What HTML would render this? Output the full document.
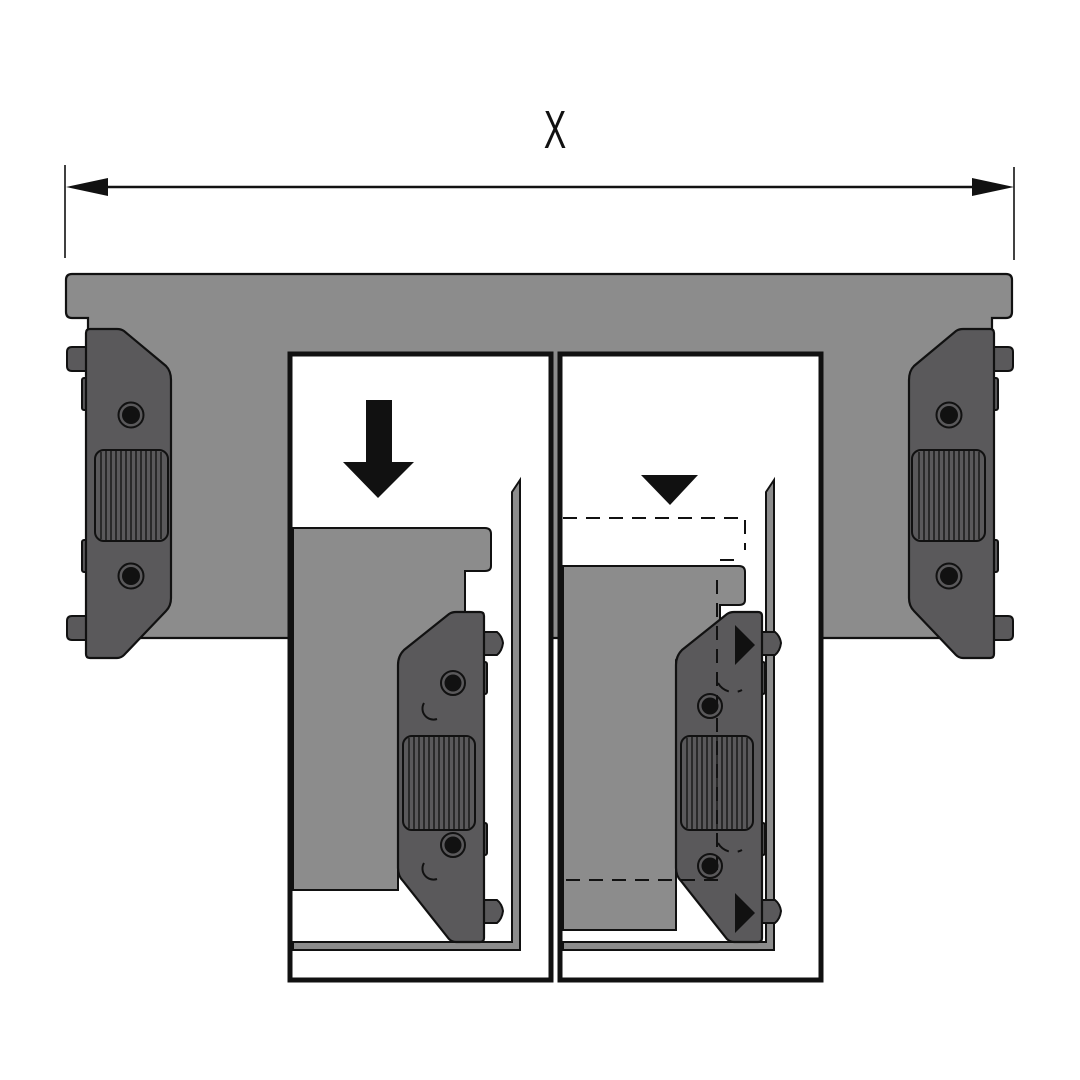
<!DOCTYPE html>
<html><head><meta charset="utf-8"><style>html,body{margin:0;padding:0;background:#fff}svg{display:block}</style></head>
<body>
<svg width="1080" height="1080" viewBox="0 0 1080 1080" xmlns="http://www.w3.org/2000/svg">
<defs>
<g id="clip">
  <!-- pins -->
  <path d="M86,347 L72,347 Q67,347 67,352 L67,366 Q67,371 72,371 L86,371 Z" fill="#5a595b" stroke="#111" stroke-width="2"/>
  <path d="M86,616 L72,616 Q67,616 67,621 L67,635 Q67,640 72,640 L86,640 Z" fill="#5a595b" stroke="#111" stroke-width="2"/>
  <rect x="82" y="378" width="6" height="32" rx="2" fill="#5a595b" stroke="#111" stroke-width="2"/>
  <rect x="82" y="540" width="6" height="32" rx="2" fill="#5a595b" stroke="#111" stroke-width="2"/>
  <!-- body -->
  <path d="M90,329 L117,329 Q121,329 124,331 L166,366 Q171,371 171,380 L171,598 Q171,606 166,611 L124,655 Q121,658 117,658 L90,658 Q86,658 86,654 L86,333 Q86,329 90,329 Z" fill="#5a595b" stroke="#111" stroke-width="2.2"/>
  <!-- screws -->
  <circle cx="131" cy="415" r="12.5" fill="#5a595b" stroke="#111" stroke-width="2"/>
  <circle cx="131" cy="415" r="9" fill="#111"/>
  <circle cx="131" cy="576" r="12.5" fill="#5a595b" stroke="#111" stroke-width="2"/>
  <circle cx="131" cy="576" r="9" fill="#111"/>
  <!-- pad -->
  <rect x="95" y="450" width="73" height="91" rx="9" fill="#5a595b" stroke="#111" stroke-width="2"/>
  <g stroke="#111" stroke-width="1.3">
    <line x1="101" y1="452" x2="101" y2="539"/><line x1="106" y1="451" x2="106" y2="540"/><line x1="111" y1="451" x2="111" y2="540"/><line x1="116" y1="451" x2="116" y2="540"/><line x1="121" y1="451" x2="121" y2="540"/><line x1="126" y1="451" x2="126" y2="540"/><line x1="131" y1="451" x2="131" y2="540"/><line x1="136" y1="451" x2="136" y2="540"/><line x1="141" y1="451" x2="141" y2="540"/><line x1="146" y1="451" x2="146" y2="540"/><line x1="151" y1="451" x2="151" y2="540"/><line x1="156" y1="451" x2="156" y2="540"/><line x1="161" y1="452" x2="161" y2="539"/>
  </g>
</g>
<g id="rclip">
  <path d="M484,632 L497,632 Q502,636 503,643 Q502,651 497,655 L484,655 Z" fill="#5a595b" stroke="#111" stroke-width="2"/>
  <path d="M484,900 L497,900 Q502,904 503,911 Q502,919 497,923 L484,923 Z" fill="#5a595b" stroke="#111" stroke-width="2"/>
  <rect x="481" y="662" width="6" height="32" rx="2" fill="#5a595b" stroke="#111" stroke-width="2"/>
  <rect x="481" y="823" width="6" height="32" rx="2" fill="#5a595b" stroke="#111" stroke-width="2"/>
  <path d="M480,612 L456,612 Q452,612 449,614 L404,650 Q398,656 398,665 L398,868 Q398,876 403,881 L449,939 Q452,942 456,942 L480,942 Q484,942 484,938 L484,616 Q484,612 480,612 Z" fill="#5a595b" stroke="#111" stroke-width="2.2"/>
  <rect x="403" y="736" width="72" height="94" rx="9" fill="#5a595b" stroke="#111" stroke-width="2"/>
  <g stroke="#111" stroke-width="1.3">
    <line x1="409" y1="738" x2="409" y2="828"/><line x1="414" y1="737" x2="414" y2="829"/><line x1="419" y1="737" x2="419" y2="829"/><line x1="424" y1="737" x2="424" y2="829"/><line x1="429" y1="737" x2="429" y2="829"/><line x1="434" y1="737" x2="434" y2="829"/><line x1="439" y1="737" x2="439" y2="829"/><line x1="444" y1="737" x2="444" y2="829"/><line x1="449" y1="737" x2="449" y2="829"/><line x1="454" y1="737" x2="454" y2="829"/><line x1="459" y1="737" x2="459" y2="829"/><line x1="464" y1="737" x2="464" y2="829"/><line x1="469" y1="738" x2="469" y2="828"/>
  </g>
</g>
</defs>

<!-- dimension -->
<line x1="65" y1="165" x2="65" y2="258" stroke="#111" stroke-width="1.6"/>
<line x1="1014" y1="167" x2="1014" y2="260" stroke="#111" stroke-width="1.6"/>
<line x1="100" y1="187" x2="980" y2="187" stroke="#111" stroke-width="2.5"/>
<polygon points="66,187 108,178 108,196" fill="#111"/>
<polygon points="1014,187 972,178 972,196" fill="#111"/>
<text x="555" y="148" font-family="Liberation Sans, sans-serif" font-size="54" text-anchor="middle" fill="#111" transform="translate(555,0) scale(0.62,1) translate(-555,0)">X</text>

<!-- top plate -->
<path d="M72,274 L1006,274 Q1012,274 1012,280 L1012,312 Q1012,318 1006,318 L992,318 L992,638 L88,638 L88,318 L72,318 Q66,318 66,312 L66,280 Q66,274 72,274 Z" fill="#8c8c8c" stroke="#111" stroke-width="2.2"/>

<use href="#clip"/>
<use href="#clip" transform="translate(1080,0) scale(-1,1)"/>

<!-- panels -->
<rect x="290" y="354" width="261" height="626" fill="#fff" stroke="#111" stroke-width="5"/>
<rect x="560" y="354" width="261" height="626" fill="#fff" stroke="#111" stroke-width="5"/>

<!-- LEFT PANEL -->
<polygon points="366,400 392,400 392,462 414,462 378,498 343,462 366,462" fill="#111"/>
<path d="M293,528 L485,528 Q491,528 491,534 L491,566 Q491,571 485,571 L465,571 L465,620 L398,700 L398,890 L293,890 Z" fill="#8c8c8c" stroke="#111" stroke-width="2"/>
<path d="M520,480 L520,950 L293,950 L293,942 L512,942 L512,492 Z" fill="#8c8c8c" stroke="#111" stroke-width="2"/>
<use href="#rclip"/>
<circle cx="453" cy="683" r="12" fill="#5a595b" stroke="#111" stroke-width="2"/><circle cx="453" cy="683" r="8.5" fill="#111"/>
<circle cx="453" cy="845" r="12" fill="#5a595b" stroke="#111" stroke-width="2"/><circle cx="453" cy="845" r="8.5" fill="#111"/>
<path d="M424,703 A11,11 0 0 0 437,719" fill="none" stroke="#111" stroke-width="2"/>
<path d="M424,863 A11,11 0 0 0 437,879" fill="none" stroke="#111" stroke-width="2"/>

<!-- RIGHT PANEL -->
<polygon points="641,475 698,475 670,505" fill="#111"/>
<path d="M563,566 L739,566 Q745,566 745,572 L745,600 Q745,605 739,605 L720,605 L720,620 L676,660 L676,930 L563,930 Z" fill="#8c8c8c" stroke="#111" stroke-width="2"/>
<path d="M774,480 L774,950 L563,950 L563,942 L766,942 L766,492 Z" fill="#8c8c8c" stroke="#111" stroke-width="2"/>
<use href="#rclip" transform="translate(278,0)"/>
<circle cx="710" cy="706" r="12" fill="#5a595b" stroke="#111" stroke-width="2"/><circle cx="710" cy="706" r="8.5" fill="#111"/>
<circle cx="710" cy="866" r="12" fill="#5a595b" stroke="#111" stroke-width="2"/><circle cx="710" cy="866" r="8.5" fill="#111"/>
<g fill="none" stroke="#111" stroke-width="2" stroke-dasharray="14,9">
  <path d="M563,518 L745,518 L745,550"/>
  <path d="M720,560 L740,560"/>
  <path d="M717,580 L717,880 L563,880"/>
  <path d="M718,683 A18,18 0 0 0 742,690"/>
  <path d="M718,843 A18,18 0 0 0 742,850"/>
</g>
<polygon points="735,625 755,645 735,665" fill="#111"/>
<polygon points="735,893 755,913 735,933" fill="#111"/>
</svg>
</body></html>
